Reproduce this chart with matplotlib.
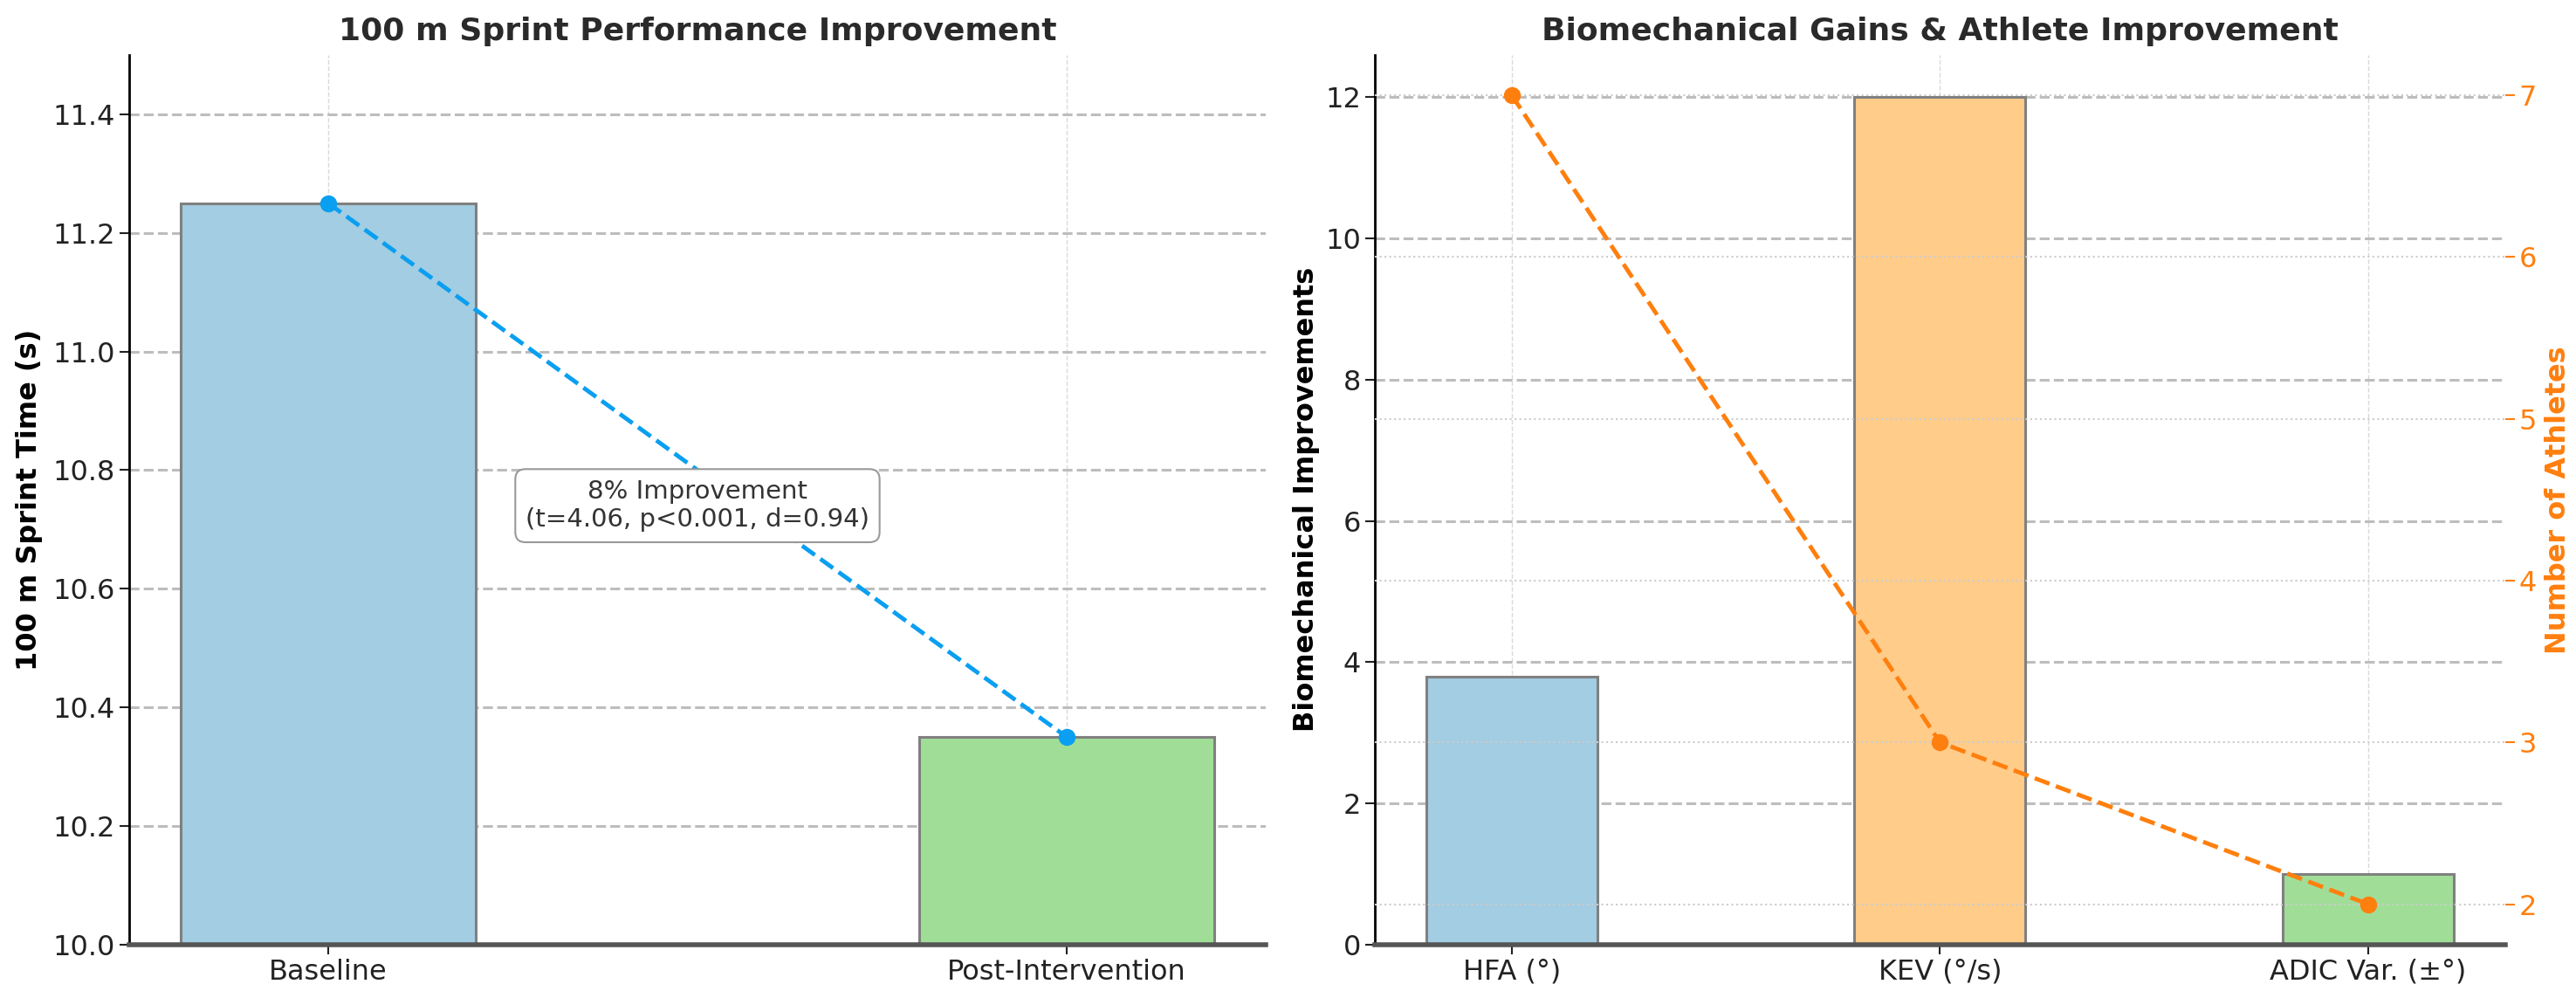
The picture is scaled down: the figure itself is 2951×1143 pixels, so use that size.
import matplotlib.pyplot as plt

# sprint data
phases = ['Baseline', 'Post-Intervention']
sprint_times = [11.25, 10.35]
sprint_colors = ['#a3cde2', '#a0de98']

# biomechanics data
metrics = ['HFA (°)', 'KEV (°/s)', 'ADIC Var. (±°)']
gains = [3.8, 12.0, 1.0]
athletes = [7, 3, 2]
bio_colors = ['#a3cde2', '#ffcc8a', '#a0de98']

line_blue = '#0a9ff0'
line_orange = '#ff7f0e'

fig = plt.figure(figsize=(29.51, 11.43), dpi=100)
ax1 = fig.add_axes([0.050, 0.0535, 0.4415, 0.8915])
ax2 = fig.add_axes([0.5337, 0.0535, 0.4388, 0.8915])

tick_fs = 23
lab_fs = 23
title_fs = 26


def style_axes(ax):
    ax.set_axisbelow(True)
    ax.grid(axis='x', linestyle='--', linewidth=1.0, color='#d9d9d9')
    ax.grid(axis='y', linestyle='--', linewidth=2.2, color='#bdbdbd')
    for s in ['top', 'right']:
        ax.spines[s].set_visible(False)
    ax.spines['bottom'].set_linewidth(4)
    ax.spines['bottom'].set_color('#555555')
    ax.spines['left'].set_linewidth(2)
    ax.tick_params(axis='both', labelsize=tick_fs, length=8, width=1.5, colors='#222222')


# left: sprint times
x1 = range(len(phases))
ax1.bar(x1, sprint_times, width=0.4, color=sprint_colors, edgecolor='#808080', linewidth=2.2)
ax1.plot(x1, sprint_times, linestyle='--', color=line_blue, linewidth=3.5,
         marker='o', markersize=13)
ax1.set_ylim(10.0, 11.5)
ax1.set_xticks(list(x1))
ax1.set_xticklabels(phases)
style_axes(ax1)
ax1.set_ylabel('100 m Sprint Time (s)', fontsize=lab_fs, fontweight='bold', labelpad=8)
ax1.set_title('100 m Sprint Performance Improvement', fontsize=title_fs, fontweight='bold',
              color='#2a2a2a', pad=12)
ax1.text(0.5, 10.74, '8% Improvement\n(t=4.06, p<0.001, d=0.94)', ha='center', va='center',
         fontsize=21, color='#333333',
         bbox=dict(boxstyle='round,pad=0.4', facecolor='white', edgecolor='#999999', linewidth=1.5))

# right: biomechanics
x2 = range(len(metrics))
ax2.bar(x2, gains, width=0.4, color=bio_colors, edgecolor='#808080', linewidth=2.2)
ax2.set_xticks(list(x2))
ax2.set_xticklabels(metrics)
ax2.set_ylim(0, 12.6)
style_axes(ax2)
ax2.set_ylabel('Biomechanical Improvements', fontsize=lab_fs, fontweight='bold')
ax2.set_title('Biomechanical Gains & Athlete Improvement', fontsize=title_fs, fontweight='bold',
              color='#2a2a2a', pad=12)

ax3 = ax2.twinx()
ax3.plot(x2, athletes, linestyle='--', color=line_orange, linewidth=3.5,
         marker='o', markersize=13)
ax3.set_ylim(1.75, 7.25)
ax3.grid(axis='y', linestyle=':', linewidth=1.5, color='#cccccc')
for s in ['top', 'right', 'left', 'bottom']:
    ax3.spines[s].set_visible(False)
ax3.tick_params(axis='y', labelsize=tick_fs, colors=line_orange, length=8, width=1.5)
ax3.set_ylabel('Number of Athletes', fontsize=lab_fs, fontweight='bold', color=line_orange,
               labelpad=6)

fig.savefig('out.png', dpi=100)
